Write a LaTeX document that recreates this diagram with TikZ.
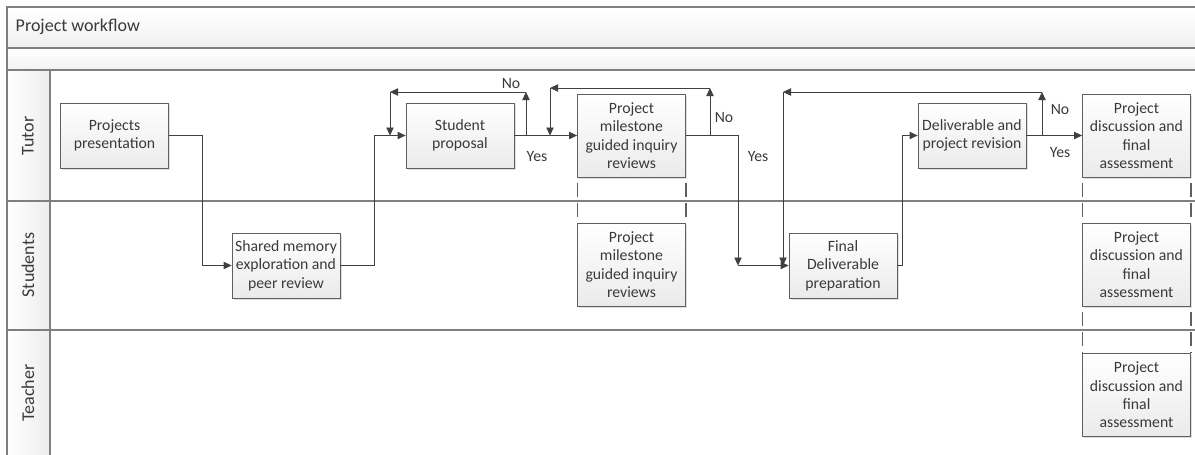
\documentclass[tikz,border=0pt]{standalone}
\usepackage{fontspec}
\setmainfont{Carlito}
\usetikzlibrary{
		arrows.meta,
		shadows
	}
\definecolor{framegray}{HTML}{7F7F7F}
\definecolor{linegray}{HTML}{404040}
\definecolor{boxgray}{HTML}{5F5F5F}
\definecolor{txtgray}{HTML}{3A3A3A}
\tikzset{
		>={Triangle[length=6pt,width=5.5pt]},
		task/.style={draw=boxgray, line width=0.6pt, top color=white, bottom color=gray!16,
			drop shadow={shadow xshift=1.2pt, shadow yshift=-1.2pt, opacity=0.25},
			minimum width=81pt, minimum height=48.75pt, inner sep=1pt, align=center,
			text=txtgray, font=\fontsize{11.8}{13.8}\selectfont},
		multi/.style={task, minimum height=62.25pt},
		flow/.style={draw=linegray, line width=0.6pt},
		answer/.style={text=txtgray, font=\fontsize{11.8}{13.8}\selectfont, inner sep=0pt},
		lanetitle/.style={rotate=90, text=txtgray, font=\fontsize{13.5}{16}\selectfont},
		joint/.style={draw=boxgray, line width=0.9pt, dash pattern=on 10.5pt off 4.5pt, dash phase=10.5pt}
	}

\begin{document}
\begin{tikzpicture}[x=0.75pt, y=-0.75pt]
		\useasboundingbox (0,0) rectangle (1195,454);
		\clip (0,0) rectangle (1195,454);
		% pool and lanes
		\fill[top color=white, bottom color=gray!12] (7,7) rectangle (1210,48);
		\fill[top color=white, bottom color=gray!10] (7,48) rectangle (1210,70);
		\fill[left color=white, right color=gray!14] (7,70) rectangle (50,470);
		\draw[framegray, line width=0.9pt] (1210,7) -- (7,7) -- (7,470) (7,48) -- (1210,48) (7,70) -- (1210,70)
			(50,70) -- (50,470) (7,201) -- (1210,201) (7,330) -- (1210,330);
		\node[anchor=west, text=txtgray, font=\fontsize{13.5}{16}\selectfont] (title) at (11,27) {Project workflow};
		\node[lanetitle] (tutor) at (28,136) {Tutor};
		\node[lanetitle] (students) at (28,265) {Students};
		\node[lanetitle] (teacher) at (28,393) {Teacher};
		% tasks
		\node[task] (pres) at (114.5,135.5) {Projects\\presentation};
		\node[task] (share) at (286,265.5) {Shared memory\\exploration and\\peer review};
		\node[task] (prop) at (460,135.5) {Student\\proposal};
		\node[multi] (mileT) at (631.5,135.5) {Project\\milestone\\guided inquiry\\reviews};
		\node[multi] (mileS) at (631.5,264.5) {Project\\milestone\\guided inquiry\\reviews};
		\node[task] (final) at (843,265.5) {Final\\Deliverable\\preparation};
		\node[task] (rev) at (972,135.5) {Deliverable and\\project revision};
		\node[multi] (discT) at (1136.5,135.5) {Project\\discussion and\\final\\assessment};
		\node[multi] (discS) at (1136.5,264.5) {Project\\discussion and\\final\\assessment};
		\node[multi] (discR) at (1136.5,395) {Project\\discussion and\\final\\assessment};
		\draw[joint] (mileT.south west) -- (mileS.north west) (mileT.south east) -- (mileS.north east);
		\draw[joint] (discT.south west) -- (discS.north west) (discT.south east) -- (discS.north east);
		\draw[joint] (discS.south west) -- (discR.north west) (discS.south east) -- (discR.north east);
		% flows
		\draw[flow,->] (pres.east) -- ++(33,0) |- (share.west);
		\draw[flow,->] (share.east) -- ++(34,0) |- (prop.west);
		\draw[flow,->] (prop.east) -- (mileT.west);
		\coordinate (no1) at (526,135.5); \coordinate (no1top) at (526,92); \coordinate (back1) at (390,92);
		\draw[flow,->] (no1) -- (no1top); \draw[flow,->] (no1top) -- (back1); \draw[flow,->] (back1) -- (back1 |- prop.west);
		\coordinate (no2) at (710,135.5); \coordinate (no2top) at (710,88); \coordinate (back2) at (550,88);
		\draw[flow,->] (no2) -- (no2top); \draw[flow,->] (no2top) -- (back2); \draw[flow,->] (back2) -- (back2 |- mileT.west);
		\coordinate (yes2) at (738,135.5);
		\draw[flow,->] (mileT.east) -- (yes2) -- (yes2 |- final.west); \draw[flow,->] (yes2 |- final.west) -- (final.west);
		\draw[flow,->] (final.east) -- ++(5,0) |- (rev.west);
		\draw[flow,->] (rev.east) -- (discT.west);
		\coordinate (no3) at (1042,135.5); \coordinate (no3top) at (1042,92); \coordinate (back3) at (783,92);
		\draw[flow,->] (no3) -- (no3top); \draw[flow,->] (no3top) -- (back3); \draw[flow,->] (back3) -- (back3 |- final.west);
		% answers
		\node[answer] (no1lbl) at (511,84) {No}; \node[answer] (yes1lbl) at (537,157) {Yes};
		\node[answer] (no2lbl) at (724,118) {No}; \node[answer] (yes2lbl) at (758,157) {Yes};
		\node[answer] (no3lbl) at (1060,110) {No}; \node[answer] (yes3lbl) at (1060,153) {Yes};
	\end{tikzpicture}
\end{document}
